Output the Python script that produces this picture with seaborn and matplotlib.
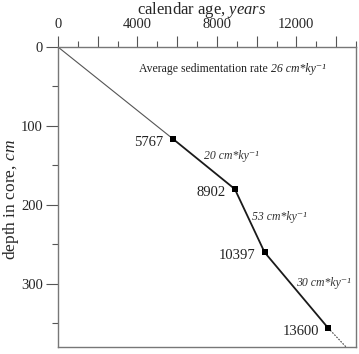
import numpy as np
import pandas as pd
import matplotlib
matplotlib.use("Agg")
import matplotlib.pyplot as plt
import seaborn as sns
from matplotlib.ticker import MultipleLocator

# ==============================
# DATA
# ==============================
ages = [5767, 8902, 10397, 13600]          # calendar age, years
depths = [116, 180, 260, 356]             # depth in core, cm
point_labels = ["5767", "8902", "10397", "13600"]
segment_rates = ["20 cm*ky⁻¹", "53 cm*ky⁻¹", "30 cm*ky⁻¹"]

# thin line from core top to first date, dotted extrapolation below last date
top_age = [0, 5767]
top_depth = [0, 116]
tail_age = [13600, 14500]
tail_depth = [356, 380]

avg_rate_label = "26 cm*ky⁻¹"

x_tick_values = [0, 4000, 8000, 12000]
x_tick_labels = ["0", "4000", "8000", "12000"]
y_tick_values = [0, 100, 200, 300]
y_tick_labels = ["0", "100", "200", "300"]

# ==============================
# STYLE
# ==============================
sns.set_style("white")
serif = ["Liberation Serif", "DejaVu Serif"]
plt.rcParams["font.family"] = serif
plt.rcParams["mathtext.fontset"] = "custom"
plt.rcParams["mathtext.rm"] = "Liberation Serif"
plt.rcParams["mathtext.it"] = "Liberation Serif:italic"

fig = plt.figure(figsize=(3.59, 3.54), dpi=100)
ax = fig.add_axes([0.1616, 0.0198, 0.83, 0.8474])

df = pd.DataFrame({"age": ages, "depth": depths})
top_df = pd.DataFrame({"age": top_age, "depth": top_depth})
tail_df = pd.DataFrame({"age": tail_age, "depth": tail_depth})

sns.lineplot(data=top_df, x="age", y="depth", ax=ax, color="#555555", lw=0.8, sort=False)
sns.lineplot(data=tail_df, x="age", y="depth", ax=ax, color="#444444",
             lw=0.8, linestyle=(0, (1.5, 1.2)), sort=False)
sns.lineplot(data=df, x="age", y="depth", ax=ax, color="#1a1a1a", lw=1.3, sort=False)
sns.scatterplot(data=df, x="age", y="depth", ax=ax, color="black", marker="s",
                s=14, edgecolor="black", linewidth=0, zorder=5)

# point labels
for a, d, lab in zip(ages, depths, point_labels):
    ax.annotate(lab, (a, d), xytext=(-6.5, -2.5), textcoords="offset points",
                ha="right", va="center", fontsize=10.5, color="#222222")

# segment rate labels
rate_pos = [(7350, 138), (9760, 215), (11980, 299)]
for (a, d), lab in zip(rate_pos, segment_rates):
    ax.text(a, d, lab, fontsize=8.5, style="italic", color="#333333",
            ha="left", va="center")

t1 = ax.text(4075, 28, "Average sedimentation rate ", fontsize=8.5, color="#222222",
             ha="left", va="center")
ax.annotate(avg_rate_label, xy=(1, 0.5), xycoords=t1, fontsize=8.5, style="italic",
            color="#222222", ha="left", va="center")

# ==============================
# AXES
# ==============================
ax.set_xlim(0, 15000)
ax.set_ylim(380, 0)

ax.xaxis.tick_top()
major_x = list(range(0, 15000, 2000))
lab_map = dict(zip(x_tick_values, x_tick_labels))
ax.set_xticks(major_x)
ax.set_xticklabels([lab_map.get(v, "") for v in major_x])
ax.xaxis.set_minor_locator(MultipleLocator(1000))
ax.set_yticks(y_tick_values)
ax.set_yticklabels(y_tick_labels)
ax.yaxis.set_minor_locator(MultipleLocator(50))

tick_col = "#555555"
ax.tick_params(axis="x", which="major", direction="out", length=8, width=0.8,
               color=tick_col, labelsize=10.5, pad=3.5, top=True, bottom=False)
ax.tick_params(axis="x", which="minor", direction="out", length=4.5, width=0.8,
               color=tick_col, top=True, bottom=False)
ax.tick_params(axis="y", which="major", direction="out", length=9, width=0.8,
               color=tick_col, labelsize=10.5, pad=2, left=True)
ax.tick_params(axis="y", which="minor", direction="out", length=4.5, width=0.8,
               color=tick_col, left=True)

ax.set_xlabel(r"calendar age, $\mathit{years}$", fontsize=12)
ax.xaxis.set_label_coords(0.483, 1.125)
ax.xaxis.label.set_va("center")
ax.set_ylabel(r"depth in core, $\mathit{cm}$", fontsize=12.5)
ax.yaxis.set_label_coords(-0.158, 0.49)
ax.yaxis.label.set_va("center")

for sp in ax.spines.values():
    sp.set_visible(True)
    sp.set_color("#777777")
    sp.set_linewidth(1.0)

fig.savefig("out.png", dpi=100)
